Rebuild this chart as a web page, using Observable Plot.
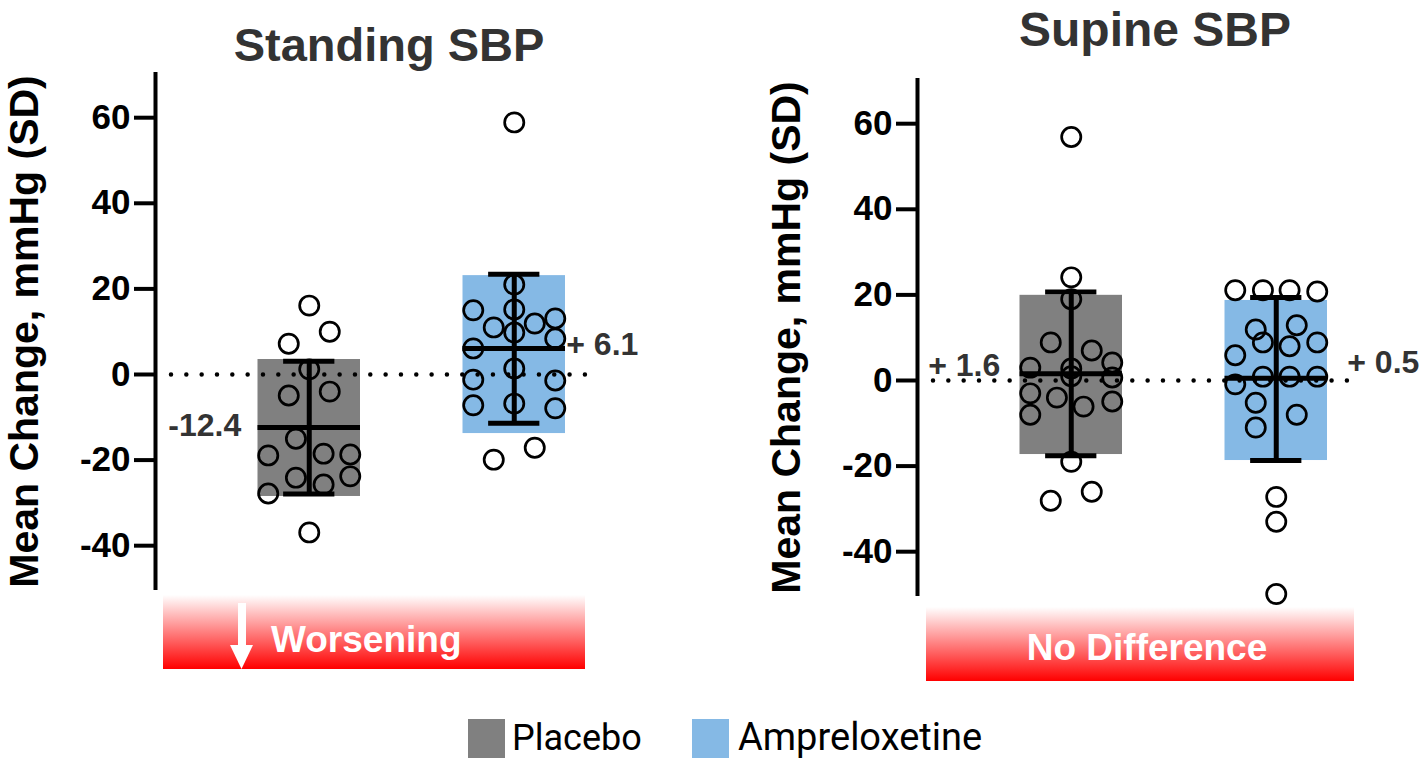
<!DOCTYPE html>
<html>
<head>
<meta charset="utf-8">
<script src="https://cdn.jsdelivr.net/npm/d3@7"></script>
<script src="https://cdn.jsdelivr.net/npm/@observablehq/plot@0.6"></script>
<style>
  html, body { margin: 0; padding: 0; background: #fff; }
  #page { position: relative; width: 1424px; height: 758px; overflow: hidden; font-family: "Liberation Sans", Arial, sans-serif; }
  .abs { position: absolute; white-space: nowrap; }
  .title { font-weight: bold; font-size: 47px; line-height: 47px; color: #333; text-align: center; width: 600px; }
  .band { background: linear-gradient(to bottom, #ffffff 0%, #ff0000 100%); }
  .bandText { color: #fff; font-weight: bold; font-size: 37px; line-height: 37px; }
  .legText { font-family: Roboto, "Liberation Sans", sans-serif; font-size: 37px; line-height: 37px; color: #000; }
</style>
</head>
<body>
<div id="page"></div>
<script>
// ---------- data ----------
const groups = ["Placebo", "Ampreloxetine"];
const groupColors = ["#808080", "#85B9E5"];
const yTicks = [-40, -20, 0, 20, 40, 60];
const yLabel = "Mean Change, mmHg (SD)";
const panelTitles = ["Standing SBP", "Supine SBP"];
const bandLabels = ["Worsening", "No Difference"];

// Standing SBP
const standingPlaceboValues = [16.1, 10.0, 7.2, 1.2, -4.9, -4.0, -15.0, -18.9, -18.5, -18.7, -24.1, -25.7, -23.8, -27.8, -36.9];
const standingPlaceboJitter = [0, 0.1, -0.1, 0, -0.1, 0.1, -0.065, -0.2, 0.07, 0.2, -0.065, 0.07, 0.2, -0.2, 0];
const standingAmpValues = [58.9, 21.0, 15.0, 15.2, 11.0, 11.9, 13.1, 9.8, 8.4, 6.1, 1.4, -1.2, -1.4, -7.2, -6.8, -7.9, -17.1, -19.9];
const standingAmpJitter = [0, 0, -0.2, 0, -0.1, 0.1, 0.2, 0, 0.2, -0.2, 0, -0.2, 0.2, -0.2, 0, 0.2, 0.1, -0.1];
const standingMeans = [-12.4, 6.1];
const standingSdLow = [-27.9, -11.4];
const standingSdHigh = [3.1, 23.4];
const standingBarLow = [-28.5, -13.8];
const standingBarHigh = [3.5, 23.1];
const standingMeanLabels = ["-12.4", "+ 6.1"];

// Supine SBP
const supinePlaceboValues = [56.9, 24.1, 19.0, 8.9, 7.0, 3.0, 4.2, 2.8, 1.0, 0.7, -3.0, -4.0, -6.1, -4.9, -8.0, -19.0, -26.0, -28.1];
const supinePlaceboJitter = [0, 0, 0, -0.1, 0.1, -0.2, 0.2, 0, 0, 0.2, -0.2, -0.07, 0.06, 0.2, -0.2, 0, 0.1, -0.1];
const supineAmpValues = [21.1, 21.1, 21.1, 20.8, 11.9, 12.9, 8.9, 8.0, 8.9, 5.9, 0.9, 0.9, 0.9, -0.9, -5.2, -8.0, -11.0, -27.2, -33.0, -49.9];
const supineAmpJitter = [-0.2, -0.065, 0.065, 0.2, -0.1, 0.1, -0.065, 0.065, 0.2, -0.2, -0.065, 0.065, 0.2, -0.2, -0.1, 0.1, -0.1, 0, 0, 0];
const supineMeans = [1.6, 0.5];
const supineSdLow = [-17.6, -18.7];
const supineSdHigh = [20.7, 19.4];
const supineBarLow = [-17.3, -18.7];
const supineBarHigh = [19.9, 18.7];
const supineMeanLabels = ["+ 1.6", "+ 0.5"];

// ---------- helpers ----------
const X_DOMAIN = [-0.75, 1.5];
const Y_DOMAIN = [-50.47, 70.56];
const BAR_HALF = 0.25;
const CAP_HALF = 0.125;
const FONT = "'Liberation Sans', Arial, sans-serif";

function buildPoints(valsA, jitA, valsB, jitB) {
  const pts = [];
  valsA.forEach((v, i) => pts.push({g: 0, group: groups[0], value: v, jitter: jitA[i]}));
  valsB.forEach((v, i) => pts.push({g: 1, group: groups[1], value: v, jitter: jitB[i]}));
  return pts;
}
function buildStats(means, sdLow, sdHigh, barLow, barHigh, labels) {
  return groups.map((group, g) => ({g, group, mean: means[g], sdLow: sdLow[g], sdHigh: sdHigh[g], barLow: barLow[g], barHigh: barHigh[g], label: labels[g]}));
}

function panel(points, stats, labelStyle) {
  return Plot.plot({
    width: 662,
    height: 600,
    marginLeft: 155,
    marginRight: 45.75,
    marginTop: 72,
    marginBottom: 10,
    style: {fontFamily: FONT, color: "black", background: "none", overflow: "visible"},
    x: {domain: X_DOMAIN, axis: null},
    y: {domain: Y_DOMAIN, axis: null},
    color: {domain: groups, range: groupColors},
    marks: [
      Plot.rectY(stats, {x1: d => d.g - BAR_HALF, x2: d => d.g + BAR_HALF, y1: "barLow", y2: "barHigh", fill: "group"}),
      Plot.ruleY([0], {stroke: "black", strokeWidth: 4.5, strokeDasharray: "0 15.33", strokeLinecap: "round", insetLeft: 16, insetRight: 30}),
      Plot.dot(points, {x: d => d.g + d.jitter, y: "value", r: 9.6, stroke: "black", strokeWidth: 2.7, fill: "none"}),
      Plot.ruleX(stats, {x: "g", y1: "sdLow", y2: "sdHigh", stroke: "black", strokeWidth: 5}),
      Plot.ruleY(stats, {y: "sdHigh", x1: d => d.g - CAP_HALF, x2: d => d.g + CAP_HALF, stroke: "black", strokeWidth: 5}),
      Plot.ruleY(stats, {y: "sdLow", x1: d => d.g - CAP_HALF, x2: d => d.g + CAP_HALF, stroke: "black", strokeWidth: 5}),
      Plot.ruleY(stats, {y: "mean", x1: d => d.g - BAR_HALF, x2: d => d.g + BAR_HALF, stroke: "black", strokeWidth: 5}),
      ...stats.map((s, i) => Plot.text([s], {x: "g", y: "mean", text: "label", dx: labelStyle[i].dx, dy: labelStyle[i].dy, textAnchor: labelStyle[i].anchor, fontSize: 32, fontWeight: "bold", fill: "#333"})),
      Plot.ruleX([X_DOMAIN[0]], {stroke: "black", strokeWidth: 4}),
      Plot.axisY({ticks: yTicks, tickSize: 21, tickPadding: 4, strokeWidth: 4, fontSize: 35, fontWeight: "bold", tickFormat: d => String(d), label: null}),
      Plot.text([yLabel], {text: d => d, frameAnchor: "left", textAnchor: "middle", lineAnchor: "middle", rotate: -90, dx: -131, fontSize: 41, fontWeight: "bold", fill: "black"})
    ]
  });
}

const page = document.getElementById("page");
function place(el, left, top) {
  el.style.position = "absolute";
  el.style.left = left + "px";
  el.style.top = top + "px";
  page.appendChild(el);
  return el;
}
function div(cls, text, left, top, extra) {
  const d = document.createElement("div");
  d.className = "abs " + cls;
  if (text != null) d.textContent = text;
  Object.assign(d.style, extra || {});
  return place(d, left, top);
}

// ---------- panels ----------
const standing = panel(
  buildPoints(standingPlaceboValues, standingPlaceboJitter, standingAmpValues, standingAmpJitter),
  buildStats(standingMeans, standingSdLow, standingSdHigh, standingBarLow, standingBarHigh, standingMeanLabels),
  [{dx: -68, dy: -2, anchor: "end"}, {dx: 52, dy: -4, anchor: "start"}]
);
const supine = panel(
  buildPoints(supinePlaceboValues, supinePlaceboJitter, supineAmpValues, supineAmpJitter),
  buildStats(supineMeans, supineSdLow, supineSdHigh, supineBarLow, supineBarHigh, supineMeanLabels),
  [{dx: -71, dy: -8, anchor: "end"}, {dx: 71, dy: -16, anchor: "start"}]
);
place(standing, 0, 0);
place(supine, 762, 6);

// ---------- titles ----------
div("title", panelTitles[0], 389 - 300, 21);
div("title", panelTitles[1], 1155 - 300, 6, {fontSize: "48px", lineHeight: "48px"});

// ---------- bands ----------
div("band", null, 163, 595, {width: "422px", height: "74px"});
div("band", null, 926, 607, {width: "428px", height: "74px"});
div("bandText", bandLabels[0], 271, 621);
div("bandText", bandLabels[1], 1147 - 300, 629, {width: "600px", textAlign: "center"});
const ns = "http://www.w3.org/2000/svg";
const arrow = document.createElementNS(ns, "svg");
arrow.setAttribute("width", "28");
arrow.setAttribute("height", "70");
const shaft = document.createElementNS(ns, "rect");
shaft.setAttribute("x", "10"); shaft.setAttribute("y", "3");
shaft.setAttribute("width", "8"); shaft.setAttribute("height", "43");
shaft.setAttribute("fill", "#fff");
const head = document.createElementNS(ns, "polygon");
head.setAttribute("points", "2,45 25,45 13.5,69");
head.setAttribute("fill", "#fff");
arrow.appendChild(shaft); arrow.appendChild(head);
place(arrow, 228, 600);

// ---------- legend ----------
div("", null, 468, 719, {width: "37px", height: "39px", background: groupColors[0]});
div("legText", groups[0], 512, 720, {fontSize: "36px"});
div("", null, 692, 719, {width: "37px", height: "39px", background: groupColors[1]});
div("legText", groups[1], 738, 719, {fontSize: "38px"});
</script>
</body>
</html>
